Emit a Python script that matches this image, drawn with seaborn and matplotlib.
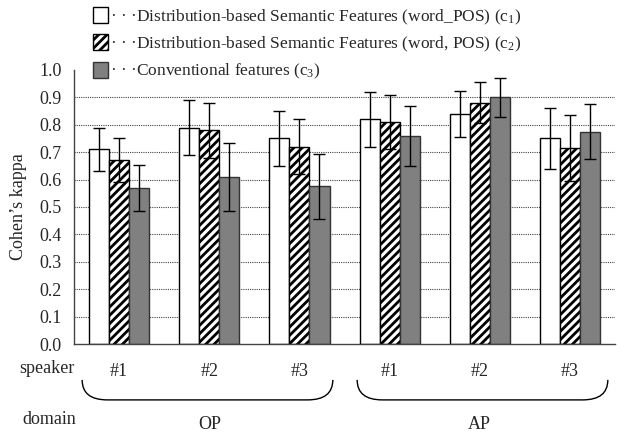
import matplotlib
matplotlib.use("Agg")

import pandas as pd
import matplotlib.pyplot as plt
import seaborn as sns
from matplotlib.patches import Patch, PathPatch
from matplotlib.path import Path
from matplotlib.transforms import blended_transform_factory

# -------------------------------
# data
# -------------------------------
domains = ["OP", "OP", "OP", "AP", "AP", "AP"]
speakers = ["#1", "#2", "#3", "#1", "#2", "#3"]
features = [
    "Distribution-based Semantic Features (word_POS) (c$_1$)",
    "Distribution-based Semantic Features (word, POS) (c$_2$)",
    "Conventional features (c$_3$)",
]
kappa_c1 = [0.71, 0.79, 0.75, 0.82, 0.84, 0.75]
kappa_c2 = [0.67, 0.78, 0.72, 0.81, 0.88, 0.715]
kappa_c3 = [0.57, 0.61, 0.575, 0.76, 0.90, 0.775]
err_c1 = [0.08, 0.10, 0.10, 0.10, 0.085, 0.11]
err_c2 = [0.08, 0.10, 0.10, 0.10, 0.075, 0.12]
err_c3 = [0.085, 0.125, 0.12, 0.11, 0.07, 0.10]

# long table for seaborn
conds = [d + " " + s for d, s in zip(domains, speakers)]
rows = []
for feat, vals, errs in zip(features, [kappa_c1, kappa_c2, kappa_c3], [err_c1, err_c2, err_c3]):
    for c, v, e in zip(conds, vals, errs):
        rows.append({"cond": c, "feature": feat, "kappa": v, "err": e})
df = pd.DataFrame(rows)

# -------------------------------
# style
# -------------------------------
sns.set_style("white")
plt.rcParams["font.family"] = ["Liberation Serif", "DejaVu Serif"]
plt.rcParams["mathtext.fontset"] = "custom"
plt.rcParams["mathtext.rm"] = "Liberation Serif"
plt.rcParams["mathtext.it"] = "Liberation Serif:italic"
plt.rcParams["hatch.linewidth"] = 2.0
FS = 13

fig = plt.figure(figsize=(6.2, 4.32), dpi=100)
ax = fig.add_axes([0.1194, 0.2037, 0.8726, 0.6343])

face_colors = ["white", "white", "#808080"]
sns.barplot(data=df, x="cond", y="kappa", hue="feature", order=conds,
            hue_order=features, palette=face_colors, edgecolor="black",
            linewidth=1.0, width=2 / 3, errorbar=None, legend=False, ax=ax)

bar_conts = list(ax.containers)
for i, cont in enumerate(bar_conts):
    errs = df[df["feature"] == features[i]]["err"].values
    for bar, e in zip(cont, errs):
        if i == 1:
            bar.set_hatch("////")
        if i == 2:
            bar.set_edgecolor("#333333")
        x = bar.get_x() + bar.get_width() / 2
        ax.errorbar(x, bar.get_height(), yerr=e, fmt="none", ecolor="black",
                    elinewidth=1.0, capsize=4, capthick=1.0, zorder=5)

# axes
ax.set_xlim(-0.5, len(conds) - 0.5)
ax.set_ylim(0, 1.0)
yt = [i / 10 for i in range(11)]
ax.set_yticks(yt)
ax.set_yticklabels([f"{v:.1f}" for v in yt], fontsize=FS)
for v in yt[1:-1]:
    ax.axhline(v, color="#444444", linestyle=(0, (1, 1)), linewidth=0.8, zorder=0)
ax.set_xticks(range(len(conds)))
ax.set_xticklabels(speakers, fontsize=FS)
ax.set_xticks([i + 0.5 for i in range(len(conds))], minor=True)
ax.tick_params(axis="x", which="major", length=0, pad=14)
ax.tick_params(axis="x", which="minor", direction="in", length=6, width=0.8, color="#555555")
ax.tick_params(axis="y", direction="in", length=5, width=0.8, pad=9)
ax.set_xlabel("")
ax.set_ylabel("Cohen’s kappa", fontsize=FS, labelpad=9)
for side in ["top", "right"]:
    ax.spines[side].set_visible(False)
for side in ["left", "bottom"]:
    ax.spines[side].set_color("#444444")
    ax.spines[side].set_linewidth(1.0)

# braces + domain labels
trans = blended_transform_factory(ax.transData, ax.transAxes)
y_top, y_bot = -0.131, -0.204
for x0, x1 in [(-0.41, 2.37), (2.64, 5.42)]:
    dx = 0.28
    verts = [(x0, y_top), (x0, y_bot), (x0 + dx, y_bot), (x1 - dx, y_bot),
             (x1, y_bot), (x1, y_top)]
    codes = [Path.MOVETO, Path.CURVE3, Path.CURVE3, Path.LINETO, Path.CURVE3, Path.CURVE3]
    ax.add_patch(PathPatch(Path(verts, codes), facecolor="none", edgecolor="black",
                           linewidth=1.0, transform=trans, clip_on=False))

fig.text(0.076, 0.146, "speaker", fontsize=FS, ha="center", va="center")
fig.text(0.079, 0.028, "domain", fontsize=FS, ha="center", va="center")
for xc, lab in [(1, "OP"), (4, "AP")]:
    ax.text(xc, -0.293, lab, fontsize=FS, ha="center", va="center", transform=trans)

# legend
hatches = [None, "////", None]
edges = ["black", "black", "#333333"]
handles = [Patch(facecolor=fc, edgecolor=ec, hatch=h, linewidth=1.0)
           for fc, ec, h in zip(face_colors, edges, hatches)]
labels = ["· · ·" + f for f in features]
fig.legend(handles, labels, loc="upper left", bbox_to_anchor=(0.138, 1.0),
           frameon=False, fontsize=12.5, handlelength=0.9, handleheight=1.05,
           handletextpad=0.1, labelspacing=0.45, borderaxespad=0)

fig.savefig("out.png", dpi=100)
